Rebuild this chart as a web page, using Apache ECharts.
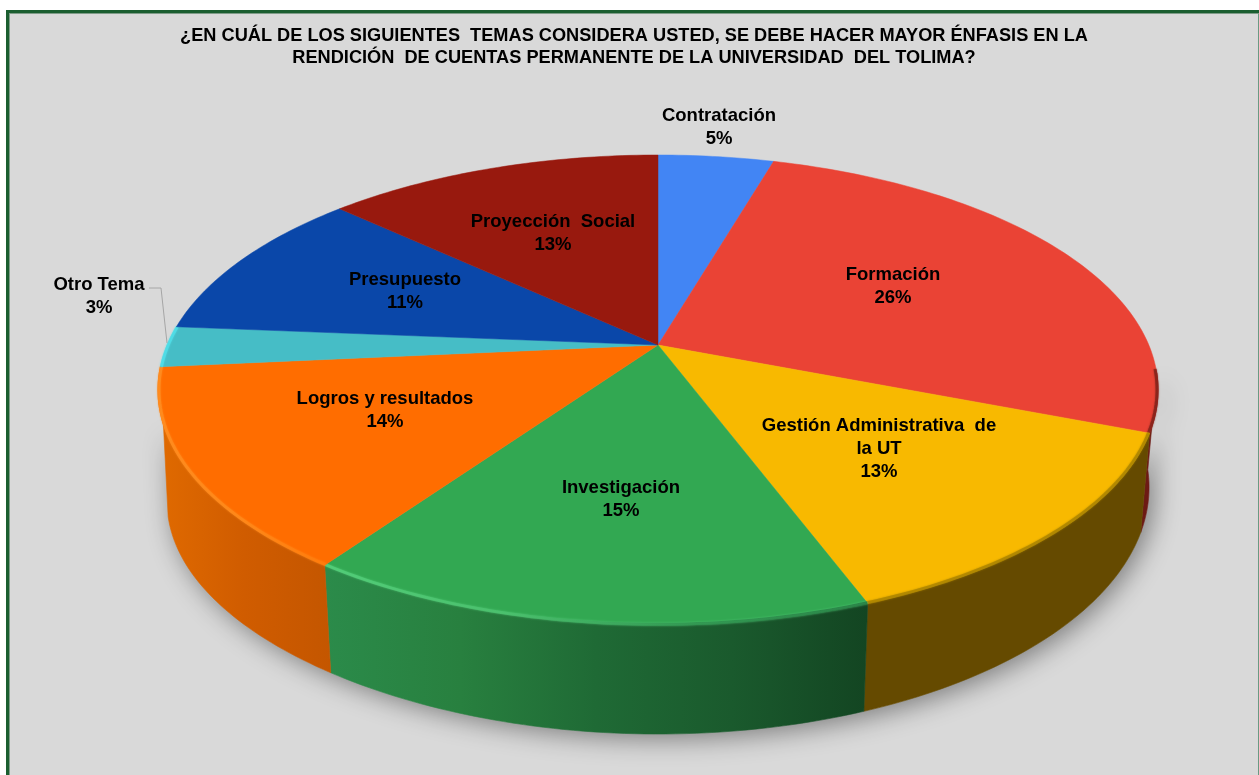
<!DOCTYPE html>
<html><head><meta charset="utf-8">
<style>html,body{margin:0;padding:0;background:#fff}#c{width:1259px;height:775px}</style>
<script src="https://cdn.jsdelivr.net/npm/echarts@6/dist/echarts.min.js"></script>
</head><body><div id="c"></div>
<script>
const titleText = '¿EN CUÁL DE LOS SIGUIENTES  TEMAS CONSIDERA USTED, SE DEBE HACER MAYOR ÉNFASIS EN LA\nRENDICIÓN  DE CUENTAS PERMANENTE DE LA UNIVERSIDAD  DEL TOLIMA?';
const categories = ['Contratación','Formación','Gestión Administrativa  de\nla UT','Investigación','Logros y resultados','Otro Tema','Presupuesto','Proyección  Social'];
const values = [4.5,26.4,13.4,15.4,13.8,2.8,10.6,13.1];
const topColors = ['#4285f4','#ea4335','#f8b900','#32a852','#ff6d00','#46bdc6','#0a47a9','#98190e'];
const wallStops = [
  ['#2a5cab','#2a5cab'],['#6d1a14','#6d1a14'],['#654a00','#654a00'],
  ['#2b8b4a','#28803f','#1f6a35','#1a5a2d','#134522'],['#e06a00','#d05c00','#c45600'],
  ['#33aaaa','#33aaaa'],['#063070','#063070'],['#6d1009','#6d1009']];
const rimStops = [
  null,['#7e2018','#7e2018'],['#a98200','#a98200'],
  ['#56d27d','#4cc06e','#2a8a49','#1e6d39'],['#ff8f22','#ff8a1a','#ff7a08'],
  ['#4fe0ea','#4fe0ea'],null,null];
// Label anchors on the page (layout, not data)
const labelAt = [[719,127],[893,286],[879,449],[621,499],[385,410],[99,296],[405,291],[553,233]];

// Perspective view of the disc: page position from an angle clockwise from 12 o'clock
const cx=658, cy=345, A=226.4, B=490.8, K=0.1915;
const wallSX=0.982, wallSY=1.05, wallDY=95, wallLeftSag=14, wallLowEnd=255;
function topPt(deg,r){ r=r===undefined?1:r; const t=deg*Math.PI/180,u=r*Math.sin(t),v=-r*Math.cos(t),w=1-K*v; return [cx+B*u/w, cy+A*v/w]; }
function lowPt(deg){ const p=topPt(deg), u=Math.min(0,Math.sin(deg*Math.PI/180)); return [cx+wallSX*(p[0]-cx), cy+wallDY+wallSY*(p[1]-cy)+wallLeftSag*u*u*u*u]; }
function arc(f,a,b){ const out=[],n=Math.max(2,Math.ceil(Math.abs(b-a)));for(let i=0;i<=n;i++)out.push(f(a+(b-a)*i/n));return out; }
const total = values.reduce((s,x)=>s+x,0);
function span(i){ let s=0;for(let k=0;k<i;k++)s+=values[k];return [s/total*360,(s+values[i])/total*360]; }
function hGrad(stops,x0,x1){ return {type:'linear',x:x0,y:0,x2:x1,y2:0,global:true,colorStops:stops.map((c,i)=>({offset:i/(stops.length-1),color:c}))}; }

function renderWall(params,api){
  const i=api.value(0), [a,b]=span(i), kids=[];
  if(i===0){
    kids.push({type:'polygon',shape:{points:arc(lowPt,97,wallLowEnd).concat(arc(topPt,250,97))},style:{fill:'#bdbdbd',shadowBlur:26,shadowColor:'rgba(0,0,0,0.42)',shadowOffsetX:5,shadowOffsetY:5}});
  }
  const s=Math.max(a,97), e=Math.min(b,265);
  if(e-s>1){
    const tp=arc(topPt,s,e), lp=arc(lowPt,s,Math.min(e,wallLowEnd)).reverse(), pts=tp.concat(lp);
    const xs=pts.map(p=>p[0]), x0=Math.min(...xs), x1=Math.max(...xs);
    const fill=hGrad(wallStops[i],x0,x1);
    kids.push({type:'polygon',shape:{points:pts},style:{fill:fill,stroke:fill,lineWidth:0.6}});
  }
  return {type:'group',children:kids};
}
function renderTop(params,api){
  const i=api.value(0), [a,b]=span(i), kids=[];
  const pts=[[cx,cy]].concat(arc(topPt,a,b));
  kids.push({type:'polygon',shape:{points:pts},style:{fill:topColors[i],stroke:topColors[i],lineWidth:0.5}});
  if(rimStops[i]){
    const s=Math.max(a,96), e=Math.min(b,290);
    const rp=arc(d=>topPt(d,0.998),s,e), xs=rp.map(p=>p[0]);
    const x0=Math.min(...xs), x1=Math.max(...xs);
    kids.push({type:'polyline',shape:{points:rp},style:{fill:null,stroke:hGrad(rimStops[i],x0,x1),lineWidth:3,opacity:0.7,shadowBlur:2,shadowColor:rimStops[i][0]}});
  }
  if(categories[i]==='Otro Tema'){
    kids.push({type:'polyline',shape:{points:[[149,288],[161,288],[167,343]]},style:{fill:null,stroke:'#a6a6a6',lineWidth:1}});
  }
  const pct=Math.round(api.value(1)/total*100);
  kids.push({type:'text',x:labelAt[i][0],y:labelAt[i][1],style:{
    text:categories[i]+'\n'+pct+'%',x:0,y:0,align:'center',verticalAlign:'middle',
    fontFamily:'"Liberation Sans",Arial,sans-serif',fontWeight:'bold',fontSize:18.5,lineHeight:23,fill:'#000'}});
  return {type:'group',children:kids};
}
const seriesData = values.map((v,i)=>({name:categories[i],value:[i,v]}));
const chart=echarts.init(document.getElementById('c'),null,{renderer:'canvas'});
chart.setOption({
  animation:false,
  backgroundColor:'#ffffff',
  title:{text:titleText,left:634,top:25,textAlign:'center',padding:0,
    textStyle:{fontFamily:'"Liberation Sans",Arial,sans-serif',fontWeight:'bold',fontSize:18.2,lineHeight:22,color:'#000'}},
  graphic:[
    {type:'rect',z:-5,shape:{x:6,y:10,width:1253,height:765},style:{fill:'#1b5e30'},silent:true},
    {type:'rect',z:-5,shape:{x:9,y:13,width:1250,height:762},style:{fill:'#7f9c88'},silent:true},
    {type:'rect',z:-5,shape:{x:10,y:14,width:1248,height:761},style:{fill:'#d9d9d9'},silent:true},
    {type:'rect',z:-5,shape:{x:1258,y:14,width:1,height:761},style:{fill:'#6a9a82'},silent:true}
  ],
  series:[
    {type:'custom',name:'Paredes',coordinateSystem:'none',silent:true,z:2,data:seriesData,renderItem:renderWall},
    {type:'custom',name:'Tapa',coordinateSystem:'none',silent:true,z:3,data:seriesData,renderItem:renderTop}
  ]
});
</script></body></html>
